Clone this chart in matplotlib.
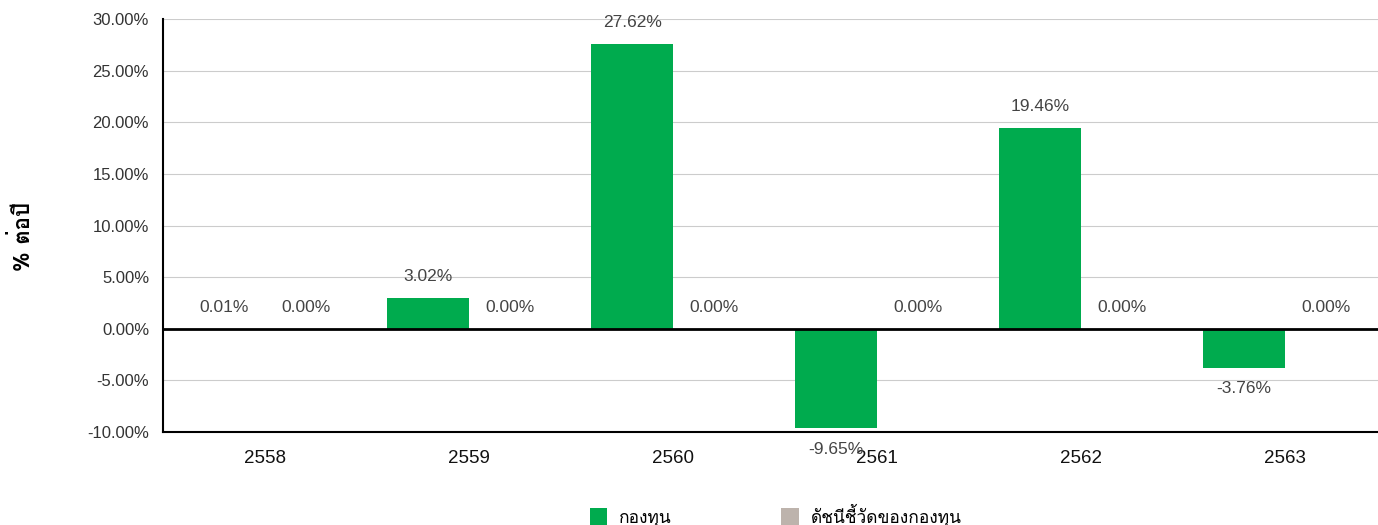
import matplotlib
matplotlib.use("Agg")
import matplotlib.pyplot as plt
from matplotlib import font_manager
from matplotlib.ft2font import FT2Font
from matplotlib.patches import Patch
from matplotlib.ticker import FuncFormatter, MultipleLocator

# find any installed font that has Thai glyphs
thai_font = None
for f in font_manager.fontManager.ttflist:
    try:
        if FT2Font(f.fname).get_char_index(0x0E01):
            thai_font = f.name
            break
    except Exception:
        pass
families = [thai_font, "DejaVu Sans"] if thai_font else ["Liberation Sans", "DejaVu Sans"]
plt.rcParams["font.family"] = ["Liberation Sans", "DejaVu Sans"]

years = ["2558", "2559", "2560", "2561", "2562", "2563"]
fund = [0.01, 3.02, 27.62, -9.65, 19.46, -3.76]
benchmark = [0.00, 0.00, 0.00, 0.00, 0.00, 0.00]
series_names = ["กองทุน", "ดัชนีชี้วัดของกองทุน"]
colors = ["#00AB4E", "#BDB3AC"]

fig = plt.figure(figsize=(13.78, 5.25), dpi=100)
ax = fig.add_axes([163 / 1378, 1 - 432 / 525, 1224 / 1378, 413 / 525])

x = list(range(len(years)))
w = 0.40
ax.bar([i - w / 2 for i in x], fund, width=w, color=colors[0], zorder=3)
ax.bar([i + w / 2 for i in x], benchmark, width=w, color=colors[1], zorder=3)

for i in x:
    for off, v in ((-w / 2, fund[i]), (w / 2, benchmark[i])):
        dy = -15 if v < 0 else 15
        ax.annotate(f"{v:.2f}%", (i + off, v), xytext=(0, dy), textcoords="offset points",
                    ha="center", va="center", fontsize=12.5, color="#444444", zorder=5)

ax.set_xlim(-0.5, len(years) - 0.5)
ax.set_ylim(-10, 30)
ax.yaxis.set_major_locator(MultipleLocator(5))
ax.yaxis.set_major_formatter(FuncFormatter(lambda v, p: f"{v:.2f}%"))
ax.set_xticks(x)
ax.set_xticklabels(years, fontsize=13.5, color="#111111")
ax.tick_params(axis="y", labelsize=12, labelcolor="#333333", length=0, pad=10)
ax.tick_params(axis="x", length=0, pad=13)
ax.grid(axis="y", color="#cccccc", linewidth=0.8, zorder=0)
ax.axhline(0, color="black", linewidth=2, zorder=4)

for s in ("top", "right"):
    ax.spines[s].set_visible(False)
ax.spines["left"].set_linewidth(1.5)
ax.spines["bottom"].set_linewidth(1.5)

fig.text(22 / 1378, 1 - 236 / 525, "% ต่อปี", rotation=90, ha="center", va="center",
         fontsize=16, fontweight="bold", family=families)

handles = [Patch(facecolor=c, edgecolor="none") for c in colors]
fig.legend(handles, series_names, loc="center", bbox_to_anchor=(0.563, 1 - 515 / 525),
           ncol=2, frameon=False, handlelength=1.0, handleheight=1.1,
           columnspacing=6.3, handletextpad=0.7, prop={"family": families, "size": 12.5})

fig.savefig("out.png", dpi=100)
